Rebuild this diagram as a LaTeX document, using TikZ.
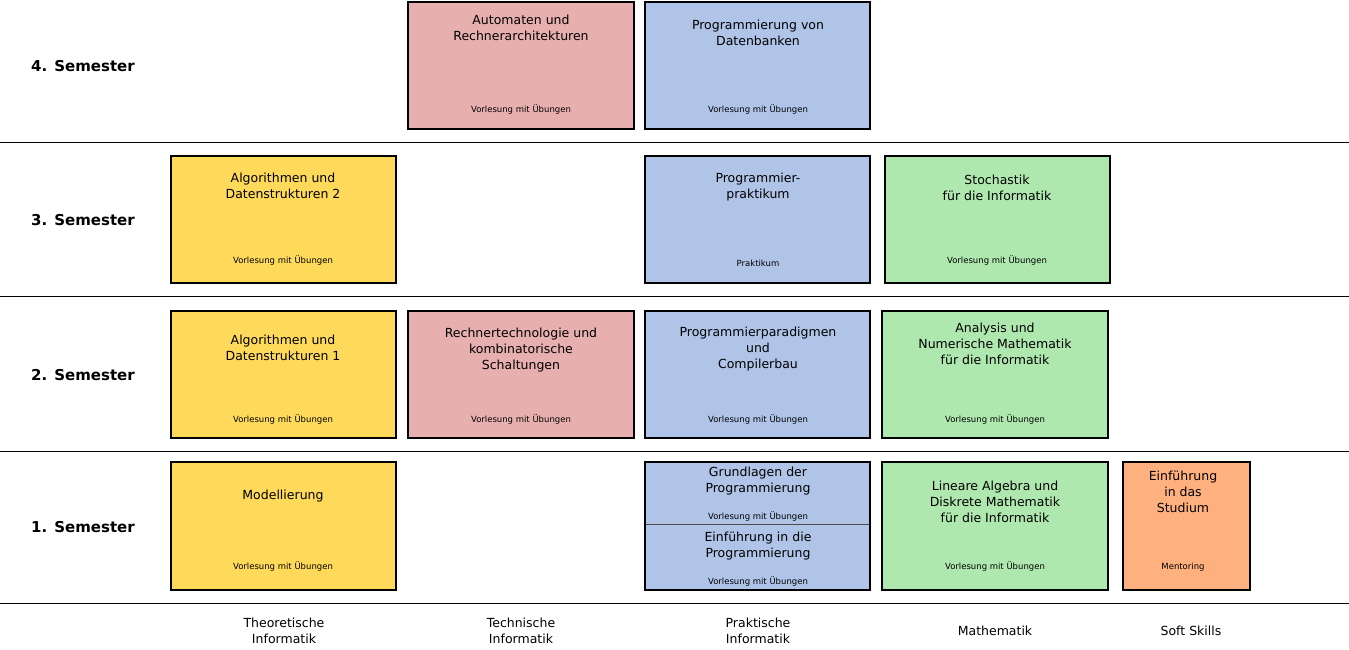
\documentclass[tikz,border=0pt]{standalone}
\usepackage{fontspec}
\setmainfont{DejaVu Sans}
\begin{document}
\begin{tikzpicture}[x=1pt,y=-1pt,
 box/.style={draw=black,line width=2.5pt},
 ti/.style={font=\fontsize{12.5}{16}\selectfont,align=center,anchor=north},
 su/.style={font=\fontsize{8.5}{10}\selectfont},
 sem/.style={font=\fontsize{15}{18}\selectfont\bfseries},
 col/.style={font=\fontsize{12.5}{16}\selectfont,align=center}]
\useasboundingbox (0,0) rectangle (1349,649);
\definecolor{cy}{RGB}{255,218,90}
\definecolor{cr}{RGB}{232,175,175}
\definecolor{cb}{RGB}{176,196,232}
\definecolor{cg}{RGB}{175,232,175}
\definecolor{co}{RGB}{255,176,127}
\foreach \y in {142,296,451,603} \draw[line width=1pt] (0,\y) -- (1349,\y);
\node[sem] (s4) at (83,66) {4. Semester};
\node[sem] (s3) at (83,220) {3. Semester};
\node[sem] (s2) at (83,375) {2. Semester};
\node[sem] (s1) at (83,527) {1. Semester};
% row 4
\fill[cr] (408,2) rectangle (634,129); \draw[box] (408,2) rectangle (634,129);
\node[ti] (a4) at (521,11) {Automaten und\\Rechnerarchitekturen};
\node[su] (a4s) at (521,109) {Vorlesung mit Übungen};
\fill[cb] (645,2) rectangle (870,129); \draw[box] (645,2) rectangle (870,129);
\node[ti] (p4) at (758,16) {Programmierung von\\Datenbanken};
\node[su] (p4s) at (758,109) {Vorlesung mit Übungen};
% row 3
\fill[cy] (171,156) rectangle (396,283); \draw[box] (171,156) rectangle (396,283);
\node[ti] (t3) at (283,169) {Algorithmen und\\Datenstrukturen 2};
\node[su] (t3s) at (283,260) {Vorlesung mit Übungen};
\fill[cb] (645,156) rectangle (870,283); \draw[box] (645,156) rectangle (870,283);
\node[ti] (p3) at (758,169) {Programmier-\\praktikum};
\node[su] (p3s) at (758,263) {Praktikum};
\fill[cg] (885,156) rectangle (1110,283); \draw[box] (885,156) rectangle (1110,283);
\node[ti] (m3) at (997,171) {Stochastik\\für die Informatik};
\node[su] (m3s) at (997,260) {Vorlesung mit Übungen};
% row 2
\fill[cy] (171,311) rectangle (396,438); \draw[box] (171,311) rectangle (396,438);
\node[ti] (t2) at (283,331) {Algorithmen und\\Datenstrukturen 1};
\node[su] (t2s) at (283,419) {Vorlesung mit Übungen};
\fill[cr] (408,311) rectangle (634,438); \draw[box] (408,311) rectangle (634,438);
\node[ti] (r2) at (521,324) {Rechnertechnologie und\\kombinatorische\\Schaltungen};
\node[su] (r2s) at (521,419) {Vorlesung mit Übungen};
\fill[cb] (645,311) rectangle (870,438); \draw[box] (645,311) rectangle (870,438);
\node[ti] (p2) at (758,323) {Programmierparadigmen\\und\\Compilerbau};
\node[su] (p2s) at (758,419) {Vorlesung mit Übungen};
\fill[cg] (882,311) rectangle (1108,438); \draw[box] (882,311) rectangle (1108,438);
\node[ti] (m2) at (995,319) {Analysis und\\Numerische Mathematik\\für die Informatik};
\node[su] (m2s) at (995,419) {Vorlesung mit Übungen};
% row 1
\fill[cy] (171,462) rectangle (396,590); \draw[box] (171,462) rectangle (396,590);
\node[ti] (t1) at (283,486) {Modellierung};
\node[su] (t1s) at (283,566) {Vorlesung mit Übungen};
\fill[cb] (645,462) rectangle (870,590);
\draw[line width=1pt,black!70] (645,524) -- (870,524);
\draw[box] (645,462) rectangle (870,590);
\node[ti] (p1a) at (758,463) {Grundlagen der\\Programmierung};
\node[su] (p1as) at (758,516) {Vorlesung mit Übungen};
\node[ti] (p1b) at (758,528) {Einführung in die\\Programmierung};
\node[su] (p1bs) at (758,581) {Vorlesung mit Übungen};
\fill[cg] (882,462) rectangle (1108,590); \draw[box] (882,462) rectangle (1108,590);
\node[ti] (m1) at (995,477) {Lineare Algebra und\\Diskrete Mathematik\\für die Informatik};
\node[su] (m1s) at (995,566) {Vorlesung mit Übungen};
\fill[co] (1123,462) rectangle (1250,590); \draw[box] (1123,462) rectangle (1250,590);
\node[ti] (o1) at (1183,467) {Einführung\\in das\\Studium};
\node[su] (o1s) at (1183,567) {Mentoring};
% columns
\node[col] (c1) at (284,631) {Theoretische\\Informatik};
\node[col] (c2) at (521,631) {Technische\\Informatik};
\node[col] (c3) at (758,631) {Praktische\\Informatik};
\node[col] (c4) at (995,631) {Mathematik};
\node[col] (c5) at (1191,631) {Soft Skills};
\end{tikzpicture}
\end{document}
